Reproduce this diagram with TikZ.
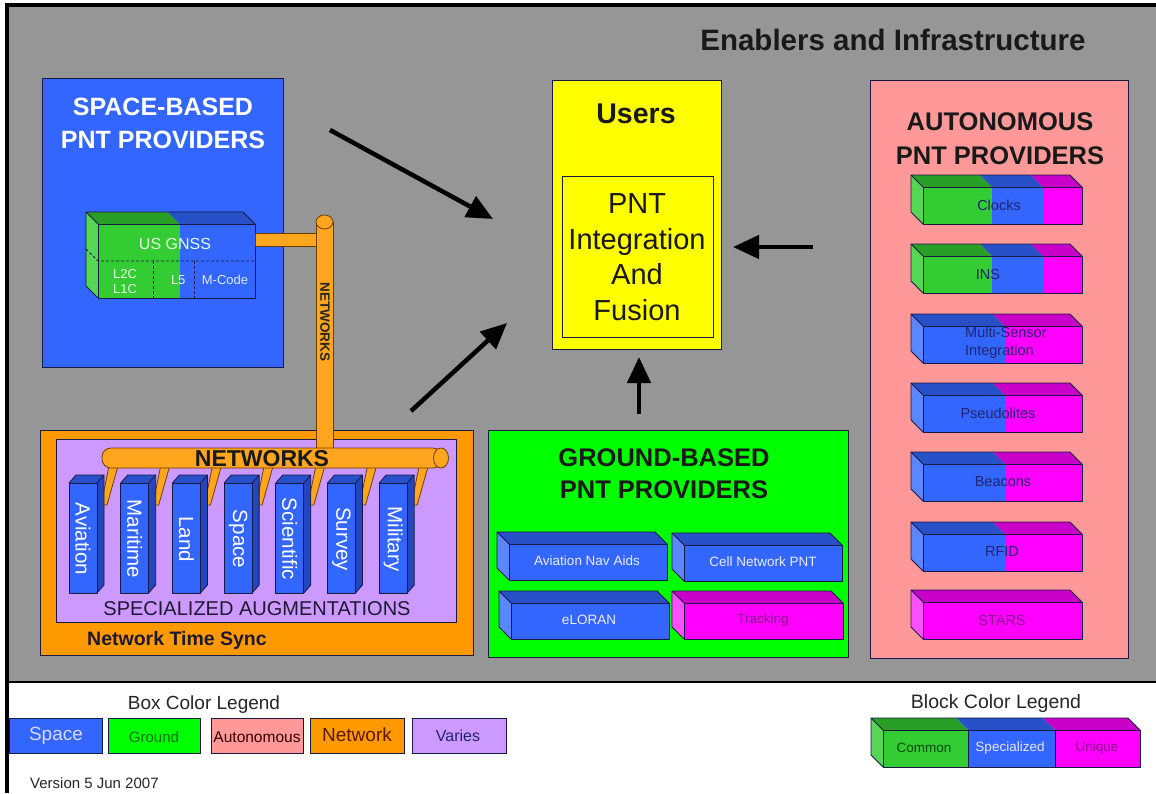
\documentclass[tikz,border=0pt]{standalone}
\usepackage{fontspec}
\setmainfont{Liberation Sans}
\usetikzlibrary{arrows.meta}

\definecolor{bggray}{RGB}{150,150,150}
\definecolor{spaceblue}{RGB}{51,102,255}
\definecolor{grndgreen}{RGB}{0,255,0}
\definecolor{autopink}{RGB}{255,153,153}
\definecolor{netorange}{RGB}{255,153,0}
\definecolor{pipeorange}{RGB}{255,165,30}
\definecolor{variespurple}{RGB}{204,153,255}
\definecolor{useryellow}{RGB}{255,255,0}
\definecolor{grnF}{RGB}{51,204,51}
\definecolor{grnT}{RGB}{40,160,40}
\definecolor{grnL}{RGB}{85,215,85}
\definecolor{bluF}{RGB}{51,102,255}
\definecolor{bluT}{RGB}{40,80,200}
\definecolor{bluL}{RGB}{90,135,255}
\definecolor{bluR}{RGB}{35,70,190}
\definecolor{magF}{RGB}{255,0,255}
\definecolor{magT}{RGB}{200,0,200}
\definecolor{magL}{RGB}{255,80,255}
\definecolor{edgenavy}{RGB}{25,25,70}
\definecolor{pipeedge}{RGB}{110,60,0}
\definecolor{labnavy}{RGB}{35,35,110}
\definecolor{labpurple}{RGB}{140,20,140}
\definecolor{darktext}{RGB}{30,25,50}
\definecolor{netbrown}{RGB}{90,25,0}

% x1 x2 y h d colour-prefix
\newcommand\cseg[6]{%
  \fill[#6F] (#1,#3) rectangle (#2,#3+#4);
  \fill[#6T] (#1,#3) -- (#2,#3) -- (#2-#5,#3-#5) -- (#1-#5,#3-#5) -- cycle;}
% x1 y h d colour-prefix
\newcommand\cleft[5]{%
  \fill[#5L] (#1,#2) -- (#1-#4,#2-#4) -- (#1-#4,#2+#3-#4) -- (#1,#2+#3) -- cycle;}
% x1 x2 y h d
\newcommand\coutline[5]{%
  \draw[cubeedge] (#1,#3) rectangle (#2,#3+#4);
  \draw[cubeedge] (#1,#3) -- (#1-#5,#3-#5) -- (#2-#5,#3-#5) -- (#2,#3);
  \draw[cubeedge] (#1-#5,#3-#5) -- (#1-#5,#3+#4-#5) -- (#1,#3+#4);}

\tikzset{
  cubeedge/.style={draw=edgenavy, line width=0.8pt, line join=round},
  bigbox/.style={anchor=north west, inner sep=0pt, draw=edgenavy, line width=0.8pt},
  legbox/.style={anchor=north west, inner sep=0pt, draw=edgenavy, line width=0.8pt, minimum width=93pt, minimum height=35pt},
  pipe/.style={fill=pipeorange, draw=pipeedge, line width=0.8pt},
  bigarrow/.style={line width=4.5pt, -{Triangle[length=26pt,width=23pt]}},
  dashline/.style={draw=edgenavy, line width=0.8pt, dash pattern=on 3pt off 2pt},
  blklab/.style={text=labnavy, font=\fontsize{14.5}{18}\selectfont, inner sep=0pt},
  grdlab/.style={text=white!92!blue, font=\fontsize{13.5}{16}\selectfont, inner sep=0pt},
  collab/.style={text=white, rotate=-90, font=\fontsize{20.5}{20}\selectfont, inner sep=0pt},
}

\begin{document}
\begin{tikzpicture}[x=1pt,y=-1pt]
\useasboundingbox (0,0) rectangle (1156,793);
\fill[white] (0,0) rectangle (1156,793);
\fill[bggray] (8,5) rectangle (1156,682);
\fill[black] (5,3) rectangle (9,793);
\fill[black] (5,3) rectangle (1156,7);
\draw[black, line width=1.5pt] (8,682) -- (1156,682);

\node[font=\bfseries\fontsize{29.5}{30}\selectfont, text=black!90] (title) at (893,40) {Enablers and Infrastructure};

% ---------- main boxes ----------
\node[bigbox, fill=spaceblue, minimum width=241pt, minimum height=289pt] (spacebox) at (42,78) {};
\node[bigbox, fill=useryellow, minimum width=169pt, minimum height=269pt] (users) at (552,80) {};
\node[bigbox, fill=useryellow, minimum width=151pt, minimum height=161pt, line width=0.6pt] (fusion) at (562,176) {};
\node[bigbox, fill=autopink, minimum width=258pt, minimum height=578pt] (autobox) at (870,80) {};
\node[bigbox, fill=grndgreen, minimum width=360pt, minimum height=227pt] (groundbox) at (488,430) {};
\node[bigbox, fill=netorange, minimum width=433pt, minimum height=225pt] (netbox) at (40,430) {};
\node[bigbox, fill=variespurple, minimum width=400pt, minimum height=183pt] (augbox) at (56,439) {};

% ---------- box titles ----------
\node[font=\bfseries\fontsize{25}{33}\selectfont, text=white, align=center] (spacetitle) at (163,123) {SPACE-BASED\\PNT PROVIDERS};
\node[font=\bfseries\fontsize{28.5}{30}\selectfont, text=black!90] (userstitle) at (636,114) {Users};
\node[font=\fontsize{29}{35.5}\selectfont, text=black!90, align=center] (fusiontext) at (637,257) {PNT\\Integration\\And\\Fusion};
\node[font=\bfseries\fontsize{25.5}{34}\selectfont, text=black!90, align=center] (autotitle) at (1000,139) {AUTONOMOUS\\PNT PROVIDERS};
\node[font=\bfseries\fontsize{25.5}{32}\selectfont, text=black!90, align=center] (groundtitle) at (664,474) {GROUND-BASED\\PNT PROVIDERS};

% ---------- struts from networks pipe to columns ----------
\foreach \xl in {69,120.7,172.4,224.1,275.8,327.5,379.2}{
  \draw[pipe] (\xl+40,466) -- (\xl+49,466) -- (\xl+38,505) -- (\xl+32,505) -- cycle;
}
% ---------- columns ----------
\foreach \xl/\lab/\nm in {69/Aviation/cav,120.7/Maritime/cmar,172.4/Land/clan,224.1/Space/cspa,275.8/Scientific/csci,327.5/Survey/csur,379.2/Military/cmil}{
  \fill[bluF] (\xl,483) rectangle (\xl+28,593);
  \fill[bluT] (\xl,483) -- (\xl+7,475) -- (\xl+35,475) -- (\xl+28,483) -- cycle;
  \fill[bluR] (\xl+28,483) -- (\xl+35,475) -- (\xl+35,585) -- (\xl+28,593) -- cycle;
  \draw[cubeedge] (\xl,483) rectangle (\xl+28,593);
  \draw[cubeedge] (\xl,483) -- (\xl+7,475) -- (\xl+35,475) -- (\xl+28,483);
  \draw[cubeedge] (\xl+35,475) -- (\xl+35,585) -- (\xl+28,593);
  \node[collab] (\nm) at (\xl+14,539) {\lab};
}
\node[font=\fontsize{20}{20}\selectfont, text=darktext] (augtext) at (257,609) {SPECIALIZED AUGMENTATIONS};
\node[font=\bfseries\fontsize{19.5}{20}\selectfont, text=darktext] (ntstext) at (177,640) {Network Time Sync};

% ---------- US GNSS block ----------
\cleft{98}{224}{74}{12}{grn}
\cseg{98}{180}{224}{74}{12}{grn}
\cseg{180}{255}{224}{74}{12}{blu}
\coutline{98}{255}{224}{74}{12}
\draw[dashline] (86,249) -- (98,261) -- (255,261);
\draw[dashline] (153,261) -- (153,298);
\draw[dashline] (194,261) -- (194,298);
\node[font=\fontsize{16}{16}\selectfont, text=white!90!green] (gnss) at (175,244) {US GNSS};
\node[font=\fontsize{13}{15}\selectfont, text=white!90!green, align=left] (l2c) at (125,282) {L2C\\L1C};
\node[font=\fontsize{13}{15}\selectfont, text=white!90!green, anchor=east] (l5) at (189,280) {L5};
\node[font=\fontsize{13}{15}\selectfont, text=white!90!blue] (mcode) at (225,280) {M-Code};

% ---------- pipes ----------
\draw[pipe] (255,233) rectangle (320,246);
\draw[pipe] (316,222) rectangle (333,452);
\draw[pipe] (324.5,222) ellipse [x radius=8.5, y radius=7];
\node[rotate=-90, font=\bfseries\fontsize{13.5}{14}\selectfont, text=black!85, inner sep=0pt] (vnet) at (325,322) {NETWORKS};
\draw[pipe, rounded corners=9pt] (102,448) rectangle (442,468);
\draw[pipe] (441,458) ellipse [x radius=7.5, y radius=10];
\node[font=\bfseries\fontsize{23}{23}\selectfont, text=black!90] (hnet) at (262,459) {NETWORKS};

% ---------- autonomous blocks ----------
% Clocks
\cleft{923}{187}{37}{12}{grn}
\cseg{923}{992}{187}{37}{12}{grn}
\cseg{992}{1043}{187}{37}{12}{blu}
\cseg{1043}{1082}{187}{37}{12}{mag}
\coutline{923}{1082}{187}{37}{12}
\node[blklab] (clocks) at (999,205) {Clocks};
% INS
\cleft{923}{256}{37}{12}{grn}
\cseg{923}{992}{256}{37}{12}{grn}
\cseg{992}{1043}{256}{37}{12}{blu}
\cseg{1043}{1082}{256}{37}{12}{mag}
\coutline{923}{1082}{256}{37}{12}
\node[blklab] (ins) at (988,275) {INS};
% Multi-sensor
\cleft{923}{326}{37}{12}{blu}
\cseg{923}{1005}{326}{37}{12}{blu}
\cseg{1005}{1082}{326}{37}{12}{mag}
\coutline{923}{1082}{326}{37}{12}
\node[blklab, align=left, anchor=west] (multi) at (965,343) {Multi-Sensor\\Integration};
% Pseudolites
\cleft{923}{395}{37}{12}{blu}
\cseg{923}{1005}{395}{37}{12}{blu}
\cseg{1005}{1082}{395}{37}{12}{mag}
\coutline{923}{1082}{395}{37}{12}
\node[blklab] (pseudo) at (998,413) {Pseudolites};
% Beacons
\cleft{923}{464}{37}{12}{blu}
\cseg{923}{1005}{464}{37}{12}{blu}
\cseg{1005}{1082}{464}{37}{12}{mag}
\coutline{923}{1082}{464}{37}{12}
\node[blklab] (beacons) at (1003,482) {Beacons};
% RFID
\cleft{923}{534}{37}{12}{blu}
\cseg{923}{1005}{534}{37}{12}{blu}
\cseg{1005}{1082}{534}{37}{12}{mag}
\coutline{923}{1082}{534}{37}{12}
\node[blklab] (rfid) at (1002,552) {RFID};
% STARS
\cleft{923}{602}{37}{12}{mag}
\cseg{923}{1082}{602}{37}{12}{mag}
\coutline{923}{1082}{602}{37}{12}
\node[blklab, text=labpurple] (stars) at (1002,620) {STARS};

% ---------- ground blocks ----------
\cleft{509}{544}{36}{12}{blu}
\cseg{509}{667}{544}{36}{12}{blu}
\coutline{509}{667}{544}{36}{12}
\node[grdlab] (avnav) at (587,561) {Aviation Nav Aids};
\cleft{684}{545}{36}{12}{blu}
\cseg{684}{842}{545}{36}{12}{blu}
\coutline{684}{842}{545}{36}{12}
\node[grdlab] (cellnet) at (763,562) {Cell Network PNT};
\cleft{511}{603}{36}{12}{blu}
\cseg{511}{669}{603}{36}{12}{blu}
\coutline{511}{669}{603}{36}{12}
\node[grdlab] (eloran) at (589,620) {eLORAN};
\cleft{684}{603}{36}{12}{mag}
\cseg{684}{843}{603}{36}{12}{mag}
\coutline{684}{843}{603}{36}{12}
\node[grdlab, text=labpurple] (tracking) at (763,620) {Tracking};

% ---------- arrows ----------
\coordinate (a1s) at (330,130);
\coordinate (a1e) at (493,219);
\coordinate (a2s) at (411,411);
\coordinate (a2e) at (507,323);
\coordinate (a3s) at (813,247);
\coordinate (a3e) at (733,247);
\coordinate (a4s) at (639,414);
\coordinate (a4e) at (639,357);
\draw[bigarrow] (a1s) -- (a1e);
\draw[bigarrow] (a2s) -- (a2e);
\draw[bigarrow] (a3s) -- (a3e);
\draw[bigarrow] (a4s) -- (a4e);

% ---------- box colour legend ----------
\node[font=\fontsize{19}{20}\selectfont, text=black!85] (boxleg) at (204,705) {Box Color Legend};
\node[legbox, fill=spaceblue] (lspace) at (9,718) {};
\node[font=\fontsize{19}{20}\selectfont, text=white!85!blue] (lspacet) at (56,736) {Space};
\node[legbox, fill=grndgreen, minimum width=92pt] (lground) at (108,718) {};
\node[font=\fontsize{15}{16}\selectfont, text=green!45!black] (lgroundt) at (154,737) {Ground};
\node[legbox, fill=autopink, minimum width=92pt] (lauto) at (211,718) {};
\node[font=\fontsize{15.5}{16}\selectfont, text=black!80!red] (lautot) at (257,737) {Autonomous};
\node[legbox, fill=netorange, minimum width=94pt] (lnet) at (310,718) {};
\node[font=\fontsize{19}{20}\selectfont, text=netbrown] (lnett) at (357,735) {Network};
\node[legbox, fill=variespurple, minimum width=94pt] (lvar) at (412,718) {};
\node[font=\fontsize{16}{16}\selectfont, text=labnavy] (lvart) at (458,736) {Varies};
\node[font=\fontsize{15}{16}\selectfont, text=black!85, anchor=west, inner sep=0pt] (version) at (30,783) {Version 5 Jun 2007};

% ---------- block colour legend ----------
\node[font=\fontsize{19.5}{20}\selectfont, text=black!85] (blkleg) at (996,703) {Block Color Legend};
\cleft{883}{730}{37}{12}{grn}
\cseg{883}{968}{730}{37}{12}{grn}
\cseg{968}{1055}{730}{37}{12}{blu}
\cseg{1055}{1140}{730}{37}{12}{mag}
\coutline{883}{1140}{730}{37}{12}
\draw[cubeedge] (968,730) -- (968,767);
\draw[cubeedge] (1055,730) -- (1055,767);
\node[font=\fontsize{13.5}{14}\selectfont, text=green!30!black] (lcommon) at (924,748) {Common};
\node[font=\fontsize{13.5}{14}\selectfont, text=white!90!blue] (lspec) at (1010,748) {Specialized};
\node[font=\fontsize{13.5}{14}\selectfont, text=labpurple] (lunique) at (1097,748) {Unique};
\end{tikzpicture}
\end{document}
